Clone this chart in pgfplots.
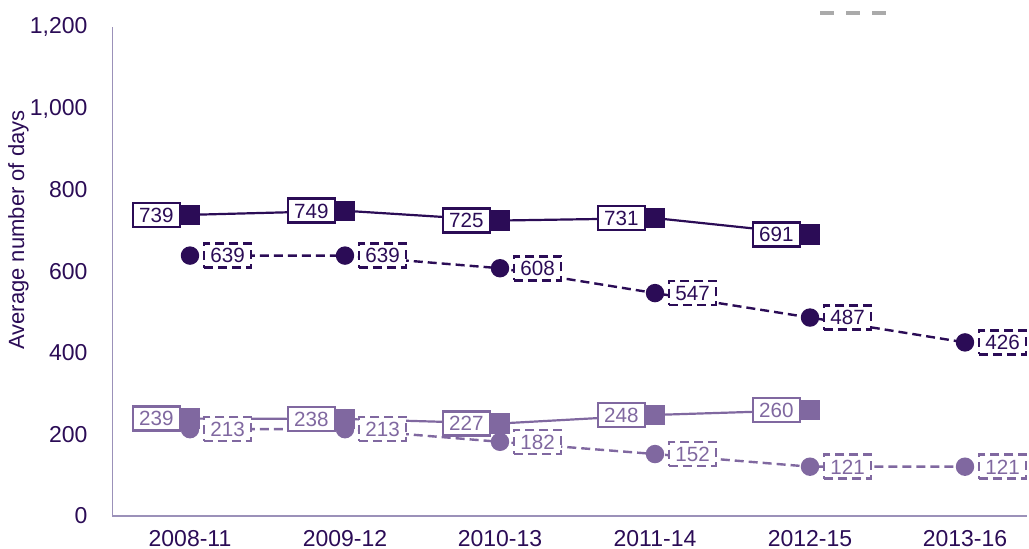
\documentclass[border=0pt]{standalone}
\usepackage{fontspec}
\setmainfont{Liberation Sans}
\usepackage{pgfplots}
\pgfplotsset{compat=1.18}
\definecolor{dk}{RGB}{43,12,86}
\definecolor{lt}{RGB}{128,104,160}
\definecolor{axc}{RGB}{155,145,185}
\begin{document}
\begin{tikzpicture}
\begin{axis}[
  name=ax,
  scale only axis,
  width=457.25pt, height=244.5pt,
  xmin=-0.5, xmax=5.4, ymin=0, ymax=1200,
  axis x line*=bottom, axis y line*=left,
  axis line style={axc, line width=0.8pt},
  x axis line style={-}, y axis line style={-},
  xtick={0,1,2,3,4,5},
  xticklabels={2008-11,2009-12,2010-13,2011-14,2012-15,2013-16},
  ytick={0,200,400,600,800,1000,1200},
  major tick length=0pt,
  /pgf/number format/assume math mode=true,
  yticklabel style={/pgf/number format/1000 sep={,}, font=\fontsize{11.5}{13}\selectfont, text=dk, xshift=-9pt},
  xticklabel style={font=\fontsize{11.5}{13}\selectfont, text=dk, yshift=-3.5pt},
  clip=false,
  nodes near coords,
  nodes near coords style={font=\fontsize{10.3}{12}\selectfont, fill=white, line width=1.3pt, inner xsep=3.2pt, inner ysep=2.3pt, text height=7.4pt, text depth=0pt, outer sep=0pt},
]
% dark solid
\addplot[dk, line width=1.1pt, mark=square*, mark size=4.5pt, mark options={solid, fill=dk},
  every node near coord/.append style={draw=dk, text=dk, solid, anchor=east, xshift=-5pt}]
  coordinates {(0,739)(1,749)(2,725)(3,731)(4,691)};
% dark dashed
\addplot[dk, line width=1.2pt, dash pattern=on 4.5pt off 2.5pt, mark=*, mark size=4pt, mark options={solid, fill=dk},
  every node near coord/.append style={draw=dk, text=dk, dash pattern=on 4.5pt off 2.5pt, anchor=west, xshift=7pt}]
  coordinates {(0,639)(1,639)(2,608)(3,547)(4,487)(5,426)};
% light dashed
\addplot[lt, line width=1.2pt, dash pattern=on 4.5pt off 2.5pt, mark=*, mark size=4pt, mark options={solid, fill=lt},
  every node near coord/.append style={draw=lt, text=lt, dash pattern=on 4.5pt off 2.5pt, anchor=west, xshift=7pt}]
  coordinates {(0,213)(1,213)(2,182)(3,152)(4,121)(5,121)};
% light solid
\addplot[lt, line width=1.1pt, mark=square*, mark size=4.5pt, mark options={solid, fill=lt},
  every node near coord/.append style={draw=lt, text=lt, solid, anchor=east, xshift=-5pt}]
  coordinates {(0,239)(1,238)(2,227)(3,248)(4,260)};
\draw[color={rgb,255:red,170;green,170;blue,170}, line width=1.8pt, dash pattern=on 7pt off 6pt]
  (axis cs:4.065,1234) -- (axis cs:4.52,1234);
\end{axis}
\node[rotate=90, text=dk, font=\fontsize{11}{13}\selectfont] at ([xshift=-47pt, yshift=143pt]ax.south west) {Average number of days};
\pgfresetboundingbox
\path ([xshift=-56.25pt, yshift=-16.5pt]ax.south west) rectangle ++(514.5pt,274.5pt);
\end{tikzpicture}
\end{document}
